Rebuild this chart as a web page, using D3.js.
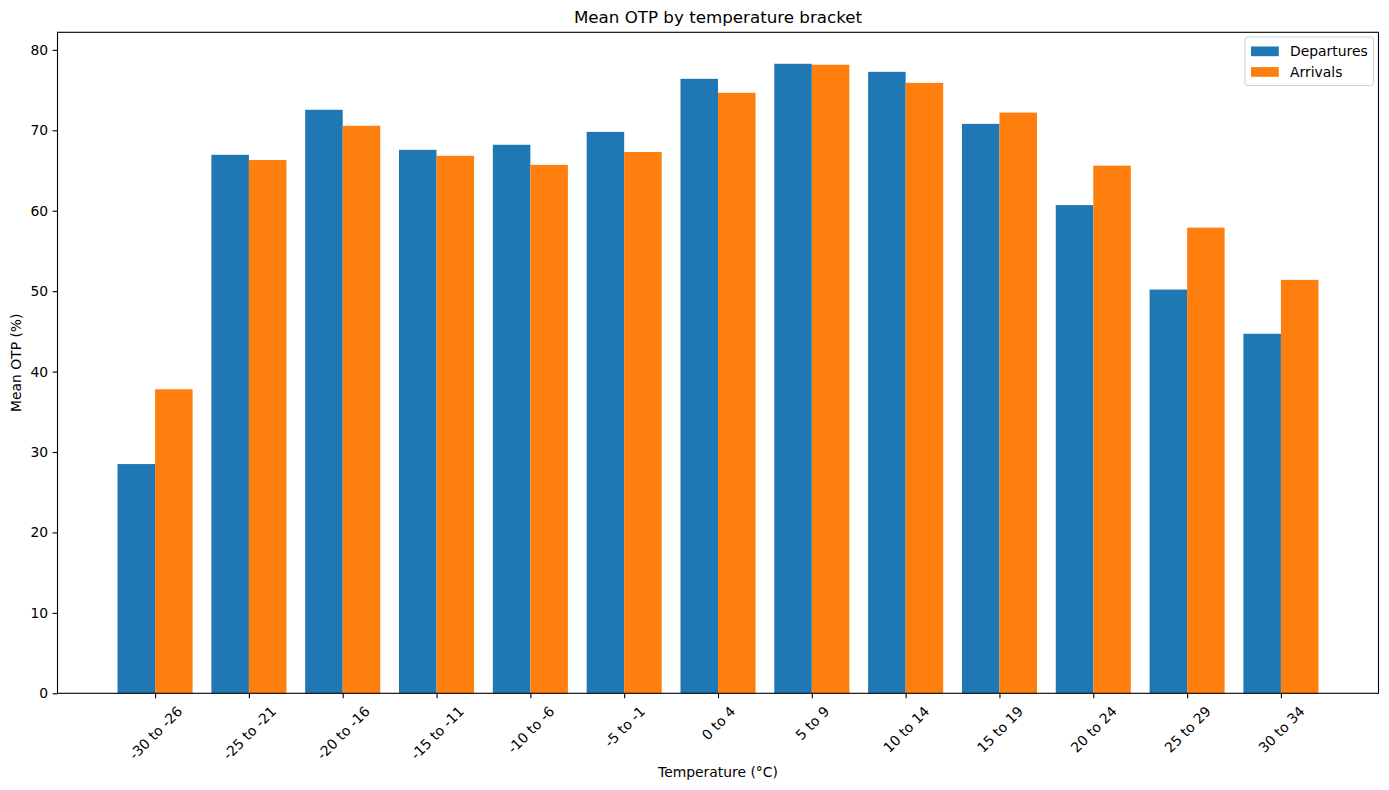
<!DOCTYPE html>
<html><head><meta charset="utf-8">
<script src="https://cdn.jsdelivr.net/npm/d3@7"></script>
<style>body{margin:0;background:#fff}svg{font-family:"DejaVu Sans",sans-serif}</style>
</head><body><svg id="c" width="1389" height="790"></svg>
<script>
const categories = ["-30 to -26","-25 to -21","-20 to -16","-15 to -11","-10 to -6","-5 to -1","0 to 4","5 to 9","10 to 14","15 to 19","20 to 24","25 to 29","30 to 34"];
const departures = [28.5,66.95,72.55,67.57,68.2,69.8,76.4,78.27,77.27,70.8,60.7,50.2,44.7];
const arrivals   = [37.8,66.3,70.56,66.83,65.7,67.3,74.66,78.15,75.9,72.2,65.6,57.9,51.4];
const seriesNames = ["Departures","Arrivals"];
const yTicks = [0,10,20,30,40,50,60,70,80];

const svg = d3.select("#c");
const L=57.5, R=1378.5, T=32.3, B=693.3;
const colors = ["#1f77b4","#ff7f0e"];
const bw = 0.4;
const n = categories.length;
const pad = (n-1+2*bw)*0.05;
const x = d3.scaleLinear().domain([-bw-pad, n-1+bw+pad]).range([L,R]);
const ymax = Math.max(d3.max(departures), d3.max(arrivals))*1.05;
const y = d3.scaleLinear().domain([0, ymax]).range([B,T]);

const data = [departures, arrivals];
data.forEach((vals, s) => {
  svg.append("g").selectAll("rect").data(vals).join("rect")
    .attr("x", (d,i) => x(i + (s===0 ? -bw : 0)))
    .attr("width", (d,i) => x(i+bw) - x(i))
    .attr("y", d => y(d))
    .attr("height", d => y(0) - y(d))
    .attr("fill", colors[s]);
});

// y axis
const ya = svg.append("g").attr("transform",`translate(${L},0)`)
  .call(d3.axisLeft(y).tickValues(yTicks).tickSize(4.9).tickPadding(4.5));
ya.select(".domain").remove();
ya.selectAll("text").attr("font-size","13.9px").attr("fill","#000").attr("font-family","DejaVu Sans");
ya.selectAll("line").attr("stroke","#000").attr("stroke-width",1.1);

// x axis
const xa = svg.append("g").attr("transform",`translate(0,${B})`)
  .call(d3.axisBottom(x).tickValues(d3.range(n)).tickFormat(i=>categories[i]).tickSize(4.9));
xa.select(".domain").remove();
xa.selectAll("line").attr("stroke","#000").attr("stroke-width",1.1);
xa.selectAll("text").attr("font-size","13.9px").attr("fill","#000").attr("font-family","DejaVu Sans")
  .attr("dy",null).attr("y",null)
  .attr("text-anchor","middle").attr("dominant-baseline","central")
  .each(function(){
    const len = this.getComputedTextLength();
    const h = 16;
    const half = (len*Math.SQRT1_2 + h*Math.SQRT1_2)/2;
    d3.select(this).attr("transform",`translate(0,${4.9+4.9+half}) rotate(-45)`);
  });

// frame
svg.append("rect").attr("x",L).attr("y",T).attr("width",R-L).attr("height",B-T)
  .attr("fill","none").attr("stroke","#000").attr("stroke-width",1.1);

// labels
svg.append("text").attr("x",(L+R)/2).attr("y",23).attr("text-anchor","middle")
  .attr("font-size","16.7px").text("Mean OTP by temperature bracket");
svg.append("text").attr("x",(L+R)/2).attr("y",777).attr("text-anchor","middle")
  .attr("font-size","13.9px").text("Temperature (°C)");
svg.append("text").attr("transform",`translate(21,${(T+B)/2}) rotate(-90)`).attr("text-anchor","middle")
  .attr("font-size","13.9px").text("Mean OTP (%)");

// legend
const lg = svg.append("g");
lg.append("rect").attr("x",1245).attr("y",37).attr("width",128.5).attr("height",48.5).attr("rx",3)
  .attr("fill","#fff").attr("fill-opacity",0.8).attr("stroke","#d0d0d0").attr("stroke-width",1);
seriesNames.forEach((nm,i)=>{
  lg.append("rect").attr("x",1251).attr("y",46.5+i*20.6).attr("width",27.8).attr("height",9.7).attr("fill",colors[i]);
  lg.append("text").attr("x",1290).attr("y",56+i*20.6).attr("font-size","13.9px").text(nm);
});
</script></body></html>
